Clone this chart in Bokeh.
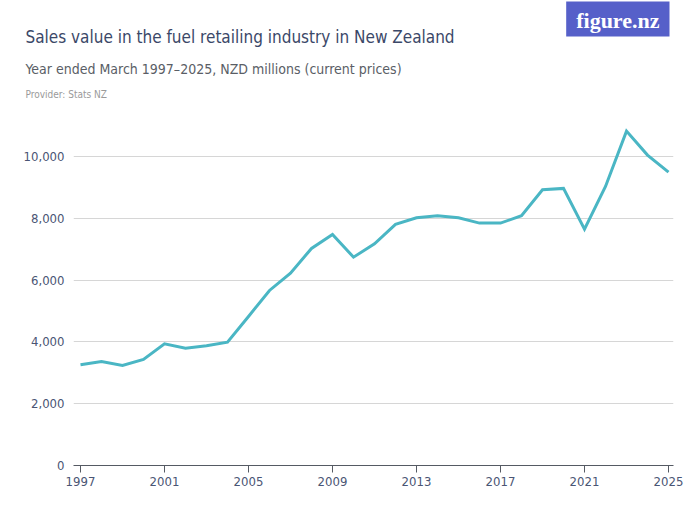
from bokeh.plotting import figure
from bokeh.models import Range1d, FixedTicker, NumeralTickFormatter, Title
from bokeh.embed import file_html
from bokeh.resources import INLINE

years = list(range(1997, 2026))
sales = [3260, 3366, 3236, 3430, 3938, 3796, 3873, 3990, 4822, 5663,
         6223, 7023, 7476, 6741, 7174, 7799, 8016, 8081, 8016, 7842,
         7842, 8081, 8922, 8964, 7647, 9029, 10819, 10042, 9492]
x_ticks = [1997, 2001, 2005, 2009, 2013, 2017, 2021, 2025]
y_ticks = [0, 2000, 4000, 6000, 8000, 10000]

title_text = "Sales value in the fuel retailing industry in New Zealand"
subtitle_text = "Year ended March 1997\u20132025, NZD millions (current prices)"
provider_text = "Provider: Stats NZ"
logo_text = "figure.nz"

FONT = "'DejaVu Sans Condensed', 'Roboto', sans-serif"

W, H = 700, 525
FL, FR, FB = 73, 673, 465   # frame edges in canvas px

p = figure(width=W, height=H, title=None,
           x_range=Range1d(1996.667, 2025.238), y_range=Range1d(0, 11000),
           output_backend="svg", toolbar_location=None,
           min_border_left=FL, min_border_right=W - FR,
           min_border_top=0, min_border_bottom=H - FB)
p.outline_line_color = None
p.background_fill_color = "white"

p.line(years, sales, line_color="#4ab6c4", line_width=3, line_join="miter")

p.xgrid.visible = False
p.ygrid.grid_line_color = "#d6d6d6"
p.ygrid.grid_line_width = 1
p.ygrid.ticker = FixedTicker(ticks=y_ticks)

p.yaxis.ticker = FixedTicker(ticks=y_ticks)
p.yaxis.formatter = NumeralTickFormatter(format="0,0")
p.yaxis.axis_line_color = None
p.yaxis.major_tick_line_color = None
p.yaxis.minor_tick_line_color = None
p.yaxis.major_tick_out = 0
p.yaxis.major_tick_in = 0
p.yaxis.major_label_standoff = 9
p.yaxis.major_label_text_font = FONT
p.yaxis.major_label_text_font_size = "13px"
p.yaxis.major_label_text_color = "#4a5574"

p.xaxis.ticker = FixedTicker(ticks=x_ticks)
p.xaxis.axis_line_color = "#555a63"
p.xaxis.axis_line_width = 1
p.xaxis.major_tick_line_color = "#555a63"
p.xaxis.major_tick_out = 7
p.xaxis.major_tick_in = 0
p.xaxis.minor_tick_line_color = None
p.xaxis.major_label_standoff = 4
p.xaxis.major_label_text_font = FONT
p.xaxis.major_label_text_font_size = "13px"
p.xaxis.major_label_text_color = "#4a5574"

# stacked from the frame upward
p.add_layout(Title(text=provider_text, align="left", offset=25 - FL,
                   text_font=FONT, text_font_size="10px", text_font_style="normal",
                   text_color="#9a9a9a", standoff=19,
                   padding=dict(left=0, right=0, top=0, bottom=16),
                   vertical_align="bottom"), "above")
p.add_layout(Title(text=subtitle_text, align="left", offset=25 - FL,
                   text_font=FONT, text_font_size="14px", text_font_style="normal",
                   text_color="#5a5e66", standoff=1,
                   padding=dict(left=0, right=0, top=22, bottom=0),
                   vertical_align="bottom"), "above")
p.add_layout(Title(text=title_text, align="left", offset=25 - FL,
                   text_font=FONT, text_font_size="17px", text_font_style="normal",
                   text_color="#3b4868", standoff=-21, vertical_align="bottom"), "above")
p.add_layout(Title(text=logo_text, align="right", offset=4,
                   text_font="Liberation Serif", text_font_size="22px",
                   text_font_style="bold", text_color="white",
                   background_fill_color="#5660c9",
                   padding=dict(left=10, right=10, top=6, bottom=4),
                   standoff=-2, vertical_align="bottom"), "above")

open("out.html", "w").write(file_html(p, INLINE))
